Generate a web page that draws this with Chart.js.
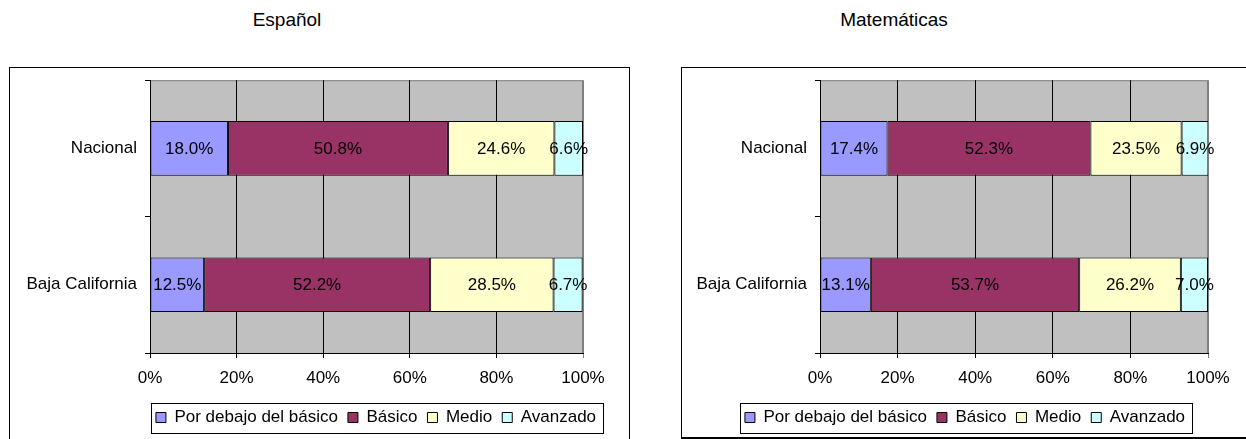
<!DOCTYPE html>
<html>
<head>
<meta charset="utf-8">
<script src="https://cdn.jsdelivr.net/npm/chart.js@4.4.1/dist/chart.umd.min.js"></script>
<style>
  body { margin: 0; width: 1246px; height: 439px; overflow: hidden; background: #fff; position: relative; font-family: "Liberation Sans", Arial, sans-serif; }
  .titulo { position: absolute; width: 240px; text-align: center; font-size: 19px; line-height: 22px; color: #000; }
  .marco { position: absolute; border: 1px solid #000; box-sizing: border-box; }
  .grafico { position: absolute; }
</style>
</head>
<body>
<div class="titulo" style="left:167px; top:9px;">Español</div>
<div class="titulo" style="left:774px; top:9px;">Matemáticas</div>

<div class="marco" style="left:9px; top:67px; width:621px; height:390px;"></div>
<div class="marco" style="left:681px; top:67px; width:580px; height:372px; border-bottom-width:2px;"></div>

<div class="grafico" style="left:10px; top:62px; width:619px; height:377px;"><canvas id="espanol"></canvas></div>
<div class="grafico" style="left:682px; top:62px; width:564px; height:377px;"><canvas id="matematicas"></canvas></div>

<script>
// Datos
const niveles = ['Por debajo del básico', 'Básico', 'Medio', 'Avanzado'];
const regiones = ['Nacional', 'Baja California'];
const colores = ['#9999FF', '#993366', '#FFFFCC', '#CCFFFF'];
const ticksX = [0, 20, 40, 60, 80, 100];

// Español
const espPorDebajo = [18.0, 12.5];
const espBasico = [50.8, 52.2];
const espMedio = [24.6, 28.5];
const espAvanzado = [6.6, 6.7];

// Matemáticas
const matPorDebajo = [17.4, 13.1];
const matBasico = [52.3, 53.7];
const matMedio = [23.5, 26.2];
const matAvanzado = [6.9, 7.0];

Chart.defaults.font.family = '"Liberation Sans", Arial, sans-serif';
Chart.defaults.font.size = 17;
Chart.defaults.color = '#000';

// fondo gris del area de trazado
const fondoGris = {
    id: 'fondoGris',
    beforeDraw(chart) {
        const a = chart.chartArea, c = chart.ctx;
        c.save();
        c.fillStyle = '#C0C0C0';
        c.fillRect(a.left, a.top, a.right - a.left, a.bottom - a.top);
        c.strokeStyle = '#808080';
        c.lineWidth = 1;
        c.strokeRect(a.left + 0.5, a.top + 0.5, a.right - a.left - 1, a.bottom - a.top);
        c.restore();
    }
};

// etiquetas de valor dentro de las barras
const etiquetas = {
    id: 'etiquetas',
    afterDatasetsDraw(chart) {
        const c = chart.ctx;
        c.save();
        c.font = '17px "Liberation Sans", Arial, sans-serif';
        c.fillStyle = '#000';
        c.textAlign = 'center';
        c.textBaseline = 'middle';
        chart.data.datasets.forEach((ds, i) => {
            chart.getDatasetMeta(i).data.forEach((bar, j) => {
                c.fillText(ds.data[j].toFixed(1) + '%', (bar.x + bar.base) / 2, bar.y + 1);
            });
        });
        c.restore();
    }
};

// mueve la leyenda y le pone marco
const marcoLeyenda = {
    id: 'marcoLeyenda',
    afterLayout(chart, args, opts) {
        const lg = chart.legend;
        if (!lg) return;
        const dx = opts.centroX - (lg.left + lg.right) / 2;
        lg.left += dx; lg.right += dx;
        const h = lg.bottom - lg.top;
        lg.top = opts.arriba; lg.bottom = opts.arriba + h;
    },
    afterDraw(chart) {
        const lg = chart.legend;
        if (!lg || !lg.legendHitBoxes.length) return;
        const hb = lg.legendHitBoxes;
        const x0 = Math.min(...hb.map(b => b.left)) - 5;
        const x1 = Math.max(...hb.map(b => b.left + b.width)) + 7;
        const cy = hb[0].top + hb[0].height / 2;
        const c = chart.ctx;
        c.save();
        c.strokeStyle = '#000';
        c.lineWidth = 1;
        c.strokeRect(Math.round(x0) + 0.5, Math.round(cy - 15) + 0.5, Math.round(x1 - x0), 30);
        c.restore();
    }
};

function crearGrafico(id, series, izq, der, centroLeyenda) {
    const ctx = document.getElementById(id).getContext('2d');
    return new Chart(ctx, {
        type: 'bar',
        data: {
            labels: regiones,
            datasets: niveles.map((n, i) => ({
                label: n,
                data: series[i],
                backgroundColor: colores[i],
                borderColor: '#000',
                borderWidth: 1,
                borderSkipped: false,
                barPercentage: 0.5,
                categoryPercentage: 0.8
            }))
        },
        options: {
            indexAxis: 'y',
            responsive: true,
            maintainAspectRatio: false,
            animation: false,
            layout: { padding: { left: 0, right: der, top: 0, bottom: 1 } },
            plugins: {
                tooltip: { enabled: false },
                legend: {
                    position: 'bottom',
                    labels: { boxWidth: 10, boxHeight: 10, padding: 10, font: { size: 17 }, color: '#000' }
                },
                marcoLeyenda: { centroX: centroLeyenda, arriba: 337 }
            },
            scales: {
                x: {
                    stacked: true,
                    min: 0,
                    max: 100,
                    afterBuildTicks: s => { s.ticks = ticksX.map(v => ({ value: v })); },
                    afterFit: s => { s.height = 48; },
                    ticks: { callback: v => v + '%', padding: 10, color: '#000' },
                    grid: {
                        color: c => (c.tick && c.tick.value === 100) ? '#808080' : '#000',
                        tickLength: 5
                    },
                    border: { color: '#000' }
                },
                y: {
                    stacked: true,
                    afterFit: s => { s.width = izq; },
                    ticks: { padding: 8, color: '#000' },
                    grid: { offset: true, drawOnChartArea: false, tickLength: 5, color: '#000' },
                    border: { color: '#000' }
                }
            }
        },
        plugins: [fondoGris, etiquetas, marcoLeyenda]
    });
}

crearGrafico('espanol', [espPorDebajo, espBasico, espMedio, espAvanzado], 140, 46, 366);
crearGrafico('matematicas', [matPorDebajo, matBasico, matMedio, matAvanzado], 138, 38, 283);
</script>
</body>
</html>
